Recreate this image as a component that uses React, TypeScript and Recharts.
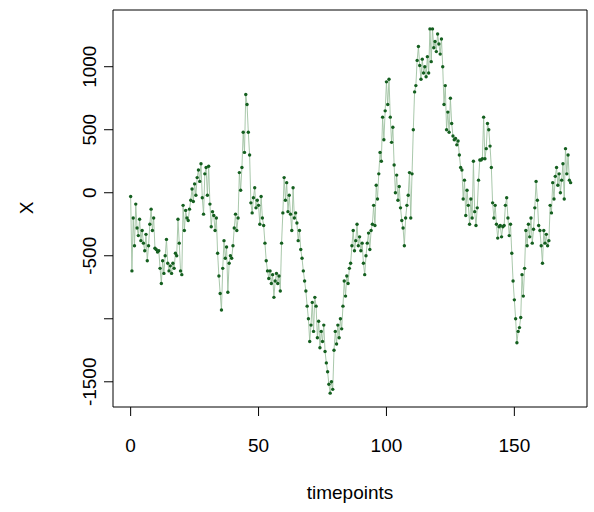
import React from "react";
import { LineChart, Line, XAxis, YAxis, ReferenceArea, Label } from "recharts";

// X values, read in half-step chunks (t = 0, 0.5, 1, ...)
const part1 = [
  -30, -620, -200, -420, -90, -280, -340, -210, -380, -300,
  -400, -460, -330, -540, -420, -250, -130, -300, -200, -440,
  -450, -470, -460, -600, -720, -540, -640, -500, -370, -560,
  -620, -580, -640, -560, -600, -480, -500, -210, -400, -620,
  -650, -100, -300, -140, -200, -220, -130, -60, 30, -70,
  70, -20, 120, 180, 90, 230, -40, -170, 150, 200,
  -20, 210, -90, -270, -150, -180, -300, -200, -480, -660,
];
const part2 = [
  -800, -930, -600, -380, -520, -430, -790, -560, -500, -520,
  -420, -280, -170, -300, -200, 160, 20, 200, 480, 320,
  780, 700, 480, 300, -80, -160, -40, 40, -120, -60,
  -100, -250, -30, -200, -260, -400, -540, -620, -680, -620,
  -720, -650, -830, -700, -640, -720, -660, -780, -400, -160,
  120, -60, 80, -150, -20, -170, -300, 40, -200, -160,
  -240, -380, -300, -450, -520, -620, -700, -780, -900, -1000,
];
const part3 = [
  -1180, -1050, -870, -1100, -830, -900, -1150, -1020, -1230, -1100,
  -1180, -1050, -1260, -1350, -1420, -1520, -1590, -1500, -1560, -1250,
  -1100, -1200, -1050, -1150, -1000, -1080, -900, -700, -820, -660,
  -720, -600, -560, -420, -300, -460, -380, -250, -420, -350,
  -460, -400, -560, -650, -500, -400, -320, -450, -300, -250,
  -100, -260, 60, -50, 150, 320, 250, 600, 420, 650,
  880, 700, 900, 600, 400, 520, 220, 0, 140, -60,
];
const part4 = [
  50, -120, -220, -280, -420, -200, -100, -20, 160, -200,
  150, 500, 800, 850, 1050, 1160, 1010, 900, 1060, 950,
  1000, 920, 1080, 950, 1300, 1040, 1300, 1150, 1200, 1120,
  1260, 1180, 1100, 1220, 1000, 700, 850, 500, 640, 480,
  750, 550, 450, 420, 430, 380, 410, 300, 200, 180,
  -50, 100, -180, 20, -100, -250, -50, -200, 250, -150,
  -260, -120, 100, 260, 260, 270, 600, 270, 350, 550,
];
const part5 = [
  500, 370, 200, -80, -200, -100, -250, -360, -270, -260,
  -350, -270, -260, -100, -40, -200, -340, -250, -480, -700,
  -850, -1000, -1190, -1100, -1070, -990, -650, -820, -600, -300,
  -420, -250, -350, -200, -400, -290, -120, 90, -60, -260,
  -300, -420, -560, -300, -400, -330, -420, -380, -100, -160,
  80, -50, 130, 200, 60, 150, 0, 100, 230, -50,
  350, 150, 300, 100, 80,
];

const values = [...part1, ...part2, ...part3, ...part4, ...part5];
const data = values.map((x, i) => ({ t: i * 0.5, x }));

const xTicks = [0, 50, 100, 150];
const yTicks = [-1500, -1000, -500, 0, 500, 1000];
const yLabelSkip = [-1000];

const FONT = "'Liberation Sans', Arial, Helvetica, sans-serif";

const XTick = (props: any) => {
  const { x, payload } = props;
  return (
    <text x={x} y={452} textAnchor="middle" fontSize={19} fontFamily={FONT} fill="#000">
      {payload.value}
    </text>
  );
};

const YTick = (props: any) => {
  const { y, payload } = props;
  if (yLabelSkip.includes(payload.value)) return null;
  return (
    <text
      x={96}
      y={y}
      transform={`rotate(-90, 96, ${y})`}
      textAnchor="middle"
      fontSize={19}
      fontFamily={FONT}
      fill="#000"
    >
      {payload.value}
    </text>
  );
};

const Dot = (props: any) => {
  const { cx, cy, index } = props;
  if (cx == null || cy == null) return null;
  return <circle key={index} cx={cx} cy={cy} r={1.7} fill="#145f1f" />;
};

export default function App() {
  return (
    <div style={{ position: "absolute", left: 0, top: 0, background: "#fff" }}>
      <LineChart
        width={594}
        height={512}
        data={data}
        margin={{ top: 10, right: 7, bottom: 65, left: 53 }}
      >
        <XAxis
          dataKey="t"
          type="number"
          domain={[-6.9, 178.4]}
          ticks={xTicks}
          allowDataOverflow
          axisLine={false}
          tickLine={{ stroke: "#000" }}
          tickSize={9}
          height={40}
          tick={<XTick />}
        >
          <Label
            content={() => (
              <text x={350} y={499} textAnchor="middle" fontSize={19} fontFamily={FONT} fill="#000">
                timepoints
              </text>
            )}
          />
        </XAxis>
        <YAxis
          type="number"
          domain={[-1700, 1450]}
          ticks={yTicks}
          allowDataOverflow
          axisLine={false}
          tickLine={{ stroke: "#000" }}
          tickSize={9}
          width={60}
          tick={<YTick />}
        >
          <Label
            content={() => (
              <text
                x={33}
                y={208}
                transform="rotate(-90, 33, 208)"
                textAnchor="middle"
                fontSize={19}
                fontFamily={FONT}
                fill="#000"
              >
                X
              </text>
            )}
          />
        </YAxis>
        <ReferenceArea
          x1={-6.9}
          x2={178.4}
          y1={-1700}
          y2={1450}
          fill="none"
          stroke="#000"
          strokeWidth={1}
          ifOverflow="visible"
        />
        <Line
          type="linear"
          dataKey="x"
          stroke="#9fc2a2"
          strokeWidth={0.9}
          dot={<Dot />}
          activeDot={false}
          isAnimationActive={false}
        />
      </LineChart>
    </div>
  );
}
